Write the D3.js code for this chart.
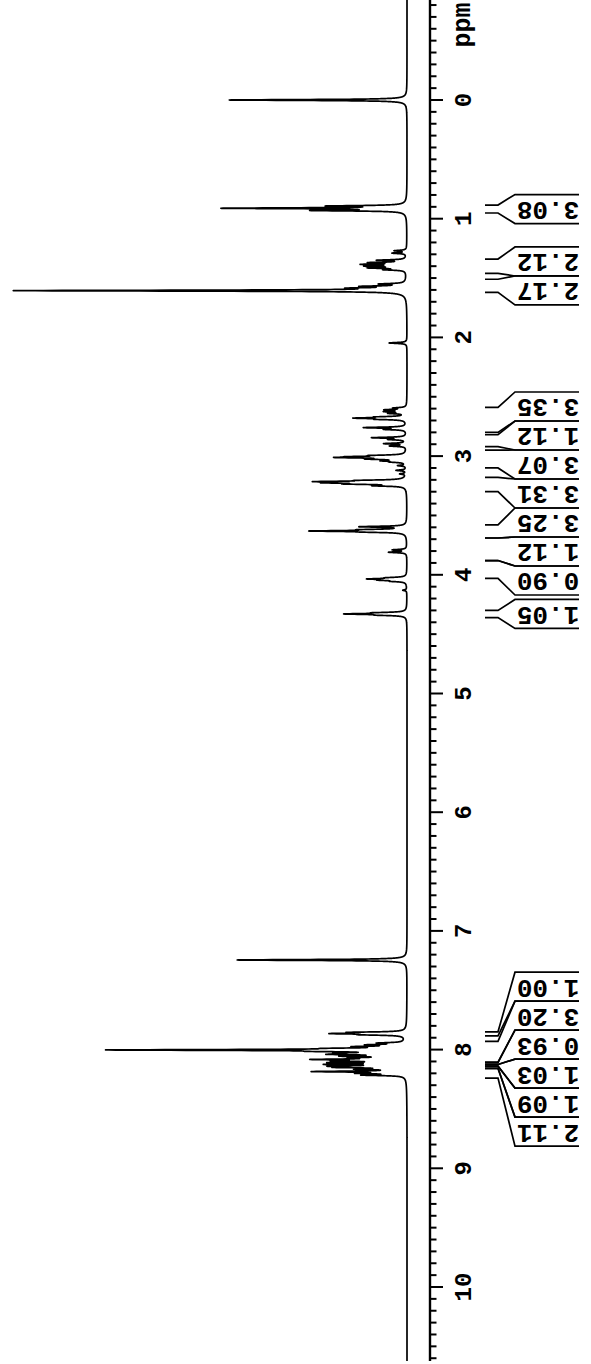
<!DOCTYPE html>
<html>
<head>
<meta charset="utf-8">
<script src="https://cdn.jsdelivr.net/npm/d3@7"></script>
<style>
  html, body { margin: 0; padding: 0; background: #fff; }
  svg { display: block; }
</style>
</head>
<body>
<div id="chart"></div>
<script>
// ---- data ----
// peak positions (ppm) and relative intensities (% of tallest line)
const peakPpm = [
  0.000,
  0.893, 0.912, 0.931,
  1.270, 1.290, 1.350, 1.370, 1.385, 1.400, 1.415, 1.430,
  1.550, 1.570, 1.585, 1.606,
  2.047,
  2.595, 2.610, 2.625, 2.640, 2.670, 2.680, 2.690, 2.760, 2.775, 2.845, 2.860, 2.895, 2.915,
  2.995, 3.005, 3.012, 3.025, 3.040, 3.050, 3.080, 3.120, 3.150,
  3.205, 3.215, 3.225, 3.235, 3.250,
  3.595, 3.620, 3.631, 3.640, 3.790, 3.810,
  4.025, 4.035, 4.045, 4.055, 4.130, 4.320, 4.330, 4.340,
  7.245,
  7.855, 7.865, 7.875, 7.945, 7.960, 7.975, 7.990, 8.003, 8.015, 8.030, 8.040, 8.055, 8.070,
  8.083, 8.095, 8.110, 8.125, 8.140, 8.150, 8.165, 8.185, 8.200, 8.215
];
const peakInt = [
  45,
  18, 45, 22,
  3, 3.5, 7, 8.5, 10, 9, 8.5, 5,
  6, 9.5, 10.5, 99,
  4.5,
  3, 5, 5, 4, 6, 11.5, 6, 10.5, 5, 8.5, 4, 5.5, 4,
  7, 10, 14, 8, 5, 3, 2, 2.5, 1.5,
  9, 19, 16, 12, 7,
  11.5, 9, 22, 7, 3.5, 4.5,
  4, 8.5, 5.5, 3, 1, 6.5, 14, 5.5,
  43,
  12, 16, 9, 6, 8, 10, 12, 72, 14, 12, 15, 13, 10,
  20, 14, 16, 17, 15, 14, 10, 22, 10, 10
];

// axis tick labels
const majorTicks = [0, 1, 2, 3, 4, 5, 6, 7, 8, 9, 10];
const axisUnit = "ppm";

// integral regions (ppm) and their printed values
const integralStart = [0.885, 1.34, 1.51, 2.59, 2.82, 2.95, 3.18, 3.58, 3.69, 3.88, 4.30, 7.850, 7.930, 8.110, 8.125, 8.140, 8.160];
const integralEnd   = [0.952, 1.46, 1.62, 2.80, 2.92, 3.10, 3.30, 3.69, 3.88, 4.03, 4.36, 7.885, 8.105, 8.125, 8.140, 8.155, 8.240];
const integralValue = ["3.08","2.12","2.17","3.35","1.12","3.07","3.31","3.25","1.12","0.90","1.05","1.00","3.20","0.93","1.03","1.09","2.11"];

// ---- drawing ----
const W = 591, H = 1364;
const svg = d3.select("#chart").append("svg").attr("width", W).attr("height", H);

const y = d3.scaleLinear().domain([0, 10]).range([100, 1287]);      // ppm -> vertical
const x = d3.scaleLinear().domain([0, 100]).range([407, 12]);        // intensity -> horizontal (leftward)

const ppmMin = y.invert(-2), ppmMax = y.invert(1361);

// spectrum: Lorentzian line shape around each listed line
const hw = 0.0045;
const samples = [];
for (let p = ppmMin; p <= ppmMax; p += 0.0004) samples.push(p);
peakPpm.forEach(p => samples.push(p));
samples.sort((a, b) => a - b);
const spec = samples.map(p => {
  let v = 0;
  for (let k = 0; k < peakPpm.length; k++) {
    const d = p - peakPpm[k];
    if (Math.abs(d) < 0.6) v += peakInt[k] * hw * hw / (d * d + hw * hw);
  }
  return { p, v };
});

svg.append("path")
  .datum(spec)
  .attr("fill", "none")
  .attr("stroke", "#000")
  .attr("stroke-width", 1.7)
  .attr("stroke-linejoin", "round")
  .attr("d", d3.line().x(d => x(d.v)).y(d => y(d.p)));

// axis
const axisX = 430;
svg.append("line")
  .attr("x1", axisX).attr("x2", axisX)
  .attr("y1", y(ppmMin)).attr("y2", 1361)
  .attr("stroke", "#000").attr("stroke-width", 2.4);

const minor = d3.range(-8, 107).map(i => i / 10).filter(v => y(v) >= 0 && y(v) <= 1361);
svg.append("g").selectAll("line").data(minor).join("line")
  .attr("x1", axisX).attr("x2", d => Math.abs(d - Math.round(d)) < 1e-6 ? axisX + 13 : axisX + 6.5)
  .attr("y1", d => y(d)).attr("y2", d => y(d))
  .attr("stroke", "#000").attr("stroke-width", 2);

svg.append("g").selectAll("text").data(majorTicks).join("text")
  .attr("transform", d => `translate(471,${y(d)}) rotate(-90)`)
  .attr("text-anchor", "middle")
  .attr("font-family", "'Liberation Mono', 'DejaVu Sans Mono', monospace")
  .attr("font-weight", "bold")
  .attr("font-size", 24)
  .text(d => d);

svg.append("text")
  .attr("transform", `translate(470,25) rotate(-90)`)
  .attr("text-anchor", "middle")
  .attr("font-family", "'Liberation Mono', 'DejaVu Sans Mono', monospace")
  .attr("font-weight", "bold")
  .attr("font-size", 25)
  .text(axisUnit);

// integral labels: stack boxes around region centres
const boxH = 29;
const items = integralValue.map((v, i) => ({
  v, s: integralStart[i], e: integralEnd[i],
  c: (y(integralStart[i]) + y(integralEnd[i])) / 2
}));
let clusters = items.map((d, i) => ({ idx: [i], sum: d.c }));
let merged = true;
while (merged) {
  merged = false;
  for (let i = 0; i < clusters.length - 1; i++) {
    const a = clusters[i], b = clusters[i + 1];
    const aBot = a.sum / a.idx.length + a.idx.length * boxH / 2;
    const bTop = b.sum / b.idx.length - b.idx.length * boxH / 2;
    if (aBot > bTop) {
      clusters.splice(i, 2, { idx: a.idx.concat(b.idx), sum: a.sum + b.sum });
      merged = true;
      break;
    }
  }
}
clusters.forEach(cl => {
  const top = cl.sum / cl.idx.length - cl.idx.length * boxH / 2;
  cl.idx.forEach((k, j) => { items[k].top = top + j * boxH; items[k].bot = top + (j + 1) * boxH; });
});

const xs0 = 485, xs1 = 498, xd = 515, xl = 579;
const ig = svg.append("g").attr("stroke", "#000").attr("stroke-width", 1.7).attr("fill", "none");
items.forEach(d => {
  const ys = y(d.s), ye = y(d.e);
  ig.append("path").attr("d", `M${xs0},${ys}H${xs1}L${xd},${d.top}H${xl}`);
  ig.append("path").attr("d", `M${xs0},${ye}H${xs1}L${xd},${d.bot}H${xl}`);
});
svg.append("g").selectAll("text").data(items).join("text")
  .attr("transform", d => `translate(548,${(d.top + d.bot) / 2}) rotate(180)`)
  .attr("text-anchor", "middle")
  .attr("dominant-baseline", "central")
  .attr("font-family", "'Liberation Mono', 'DejaVu Sans Mono', monospace")
  .attr("font-weight", "bold")
  .attr("font-size", 26)
  .text(d => d.v);
</script>
</body>
</html>
